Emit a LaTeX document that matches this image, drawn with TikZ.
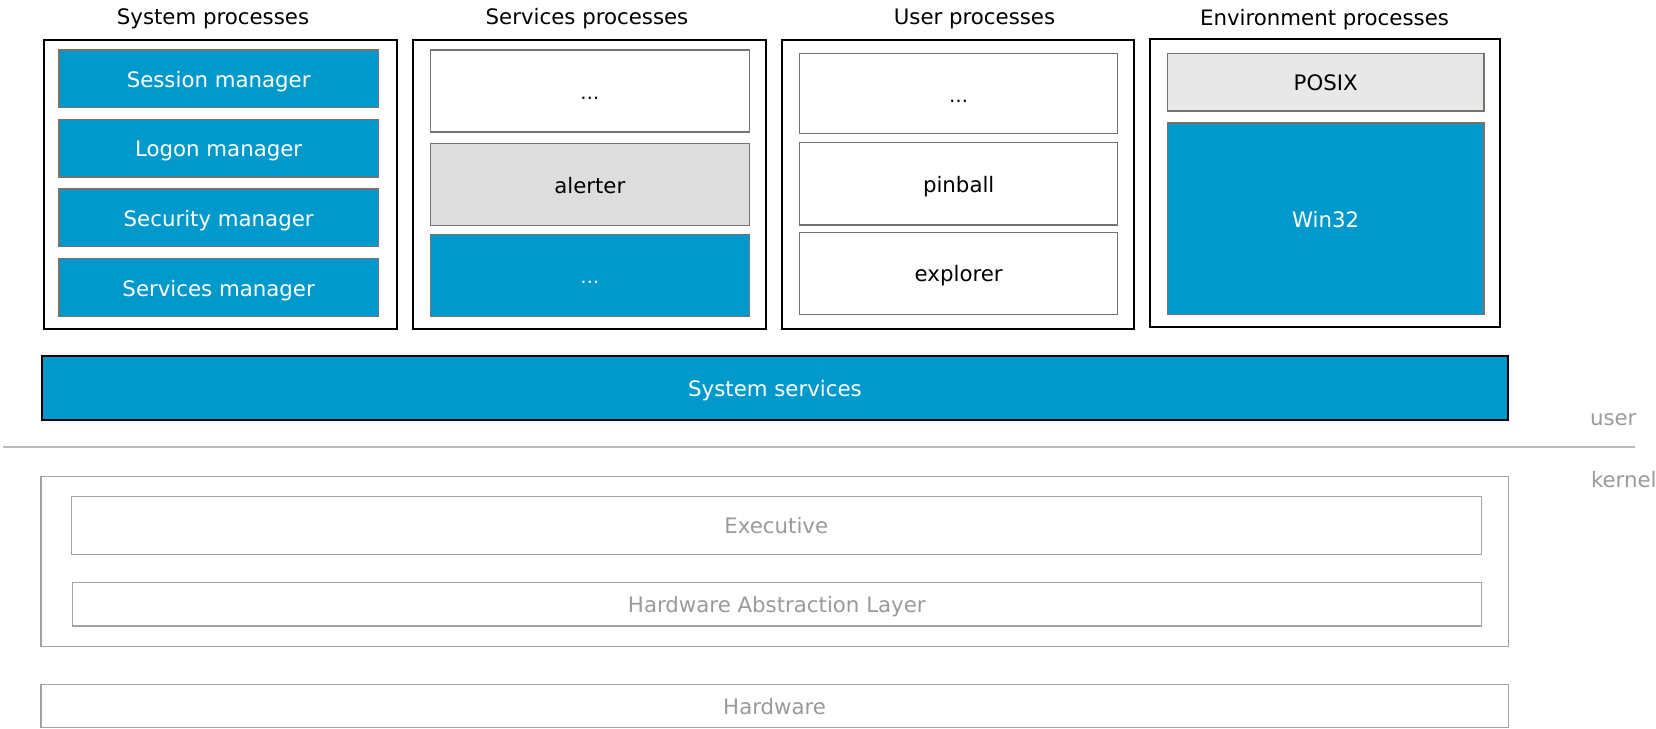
\documentclass[tikz,border=0pt]{standalone}
\usepackage{fontspec}
\setmainfont{DejaVu Sans}
\definecolor{winblue}{HTML}{0099CC}
\definecolor{lightgrey}{HTML}{DDDDDD}
\definecolor{paleGrey}{HTML}{E8E8E8}
\definecolor{edgegrey}{HTML}{77726E}
\definecolor{kernelgrey}{HTML}{A3A3A3}
\definecolor{kerneltext}{HTML}{9A9A9A}
\definecolor{sepgrey}{HTML}{BBBBBB}
% box from corner (x1,y1) to (x2,y2), centred text
\newcommand\drawbox[7]{%
  \pgfmathsetmacro\bxcx{(#2+#4)/2}\pgfmathsetmacro\bxcy{(#3+#5)/2}%
  \pgfmathsetmacro\bxw{#4-#2}\pgfmathsetmacro\bxh{#5-#3}%
  \node[#6, minimum width=\bxw pt, minimum height=\bxh pt] (#1) at (\bxcx,\bxcy) {#7};}
% smaller ellipsis used for placeholder entries
\newcommand\moredots{{\fontsize{19}{22}\selectfont …}}
\begin{document}
\begin{tikzpicture}[x=1pt,y=-1pt,
  every node/.style={font=\fontsize{21.3}{25}\selectfont, inner sep=0pt, outer sep=0pt},
  group/.style={draw=black, line width=2pt, fill=white},
  item/.style={draw=edgegrey, line width=1.2pt, text height=17pt, text depth=0pt},
  blueitem/.style={item, fill=winblue, text=white},
  greyitem/.style={item, fill=lightgrey, text=black},
  paleitem/.style={item, fill=paleGrey, text=black},
  whiteitem/.style={item, fill=white, text=black},
  layer/.style={draw=kernelgrey, line width=1.5pt, text=kerneltext, text height=17pt, text depth=0pt},
  title/.style={anchor=base, text=black},
  side/.style={anchor=base west, text=kerneltext}]
\useasboundingbox (0,0) rectangle (1656,728);

% process groups
\drawbox{sysg}{43.7}{40.3}{396.7}{329}{group}{}
\drawbox{svcg}{412.7}{40.3}{765.7}{329}{group}{}
\drawbox{usrg}{781.7}{40.3}{1134}{329}{group}{}
\drawbox{envg}{1150.3}{39}{1500.3}{327.3}{group}{}

\node[title] (syst) at (213,24) {System processes};
\node[title] (svct) at (587,24) {Services processes};
\node[title] (usrt) at (974.5,24) {User processes};
\node[title] (envt) at (1324.5,25) {Environment processes};

% system processes
\drawbox{sess}{59}{50}{378.3}{107.3}{blueitem}{Session manager}
\drawbox{logon}{59}{119.3}{378.3}{177}{blueitem}{Logon manager}
\drawbox{secu}{59}{189}{378.3}{246.7}{blueitem}{Security manager}
\drawbox{servm}{59}{258.7}{378.3}{316.3}{blueitem}{Services manager}

% services processes
\drawbox{svca}{430.3}{50}{749.3}{132}{whiteitem}{\moredots}
\drawbox{alert}{430.3}{143.3}{749.3}{225.7}{greyitem}{alerter}
\drawbox{svcb}{430.3}{234.3}{749.3}{316.3}{blueitem}{\moredots}

% user processes
\drawbox{usra}{799.7}{53.3}{1117.7}{133.7}{whiteitem}{\moredots}
\drawbox{pinb}{799.7}{142.7}{1117.7}{225}{whiteitem}{pinball}
\drawbox{expl}{799.7}{232.3}{1117.7}{314.3}{whiteitem}{explorer}

% environment subsystems
\drawbox{posix}{1167.3}{53.7}{1484}{111}{paleitem}{POSIX}
\drawbox{win}{1167.3}{123}{1484}{314.3}{blueitem}{Win32}

% system services bar
\drawbox{sserv}{41.7}{355.7}{1508.3}{420}{group, fill=winblue, text=white, text height=17pt, text depth=0pt}{System services}

% user / kernel boundary
\coordinate (sepl) at (2.7,446.7);
\coordinate (sepr) at (1634.7,446.7);
\draw[sepgrey, line width=2pt] (sepl) -- (sepr);
\node[side] (usrlab) at (1590,425) {user};
\node[side] (krnlab) at (1591,487.3) {kernel};

% kernel layers
\drawbox{kern}{41}{476.3}{1508.3}{646.7}{layer}{}
\drawbox{exec}{71.3}{496.3}{1481.3}{554.3}{layer}{Executive}
\drawbox{hal}{72.3}{582.7}{1481.3}{626}{layer}{Hardware Abstraction Layer}
\drawbox{hw}{41}{684.3}{1508.3}{727.5}{layer}{Hardware}
\end{tikzpicture}
\end{document}
